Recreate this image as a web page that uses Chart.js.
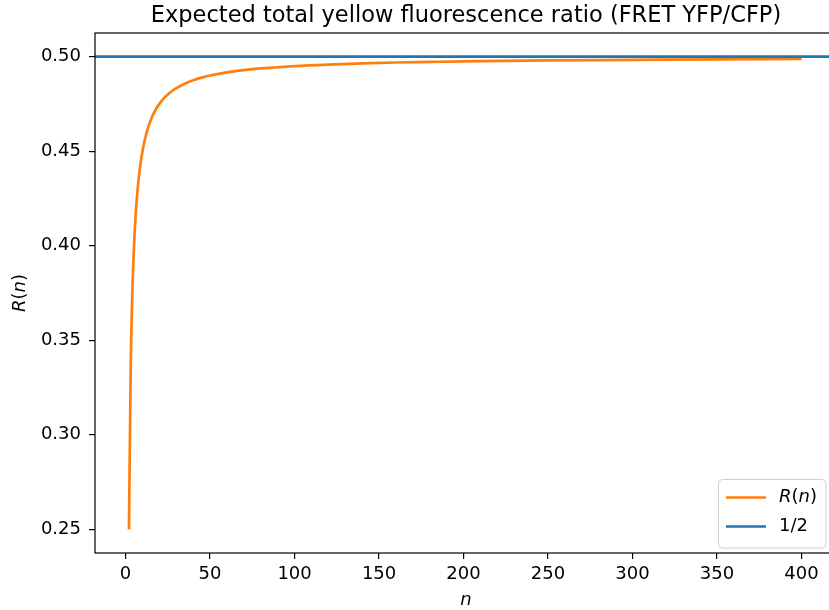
<!DOCTYPE html>
<html>
<head>
<meta charset="utf-8">
<script src="https://cdn.jsdelivr.net/npm/chart.js@4.4.1/dist/chart.umd.min.js"></script>
<style>
  html, body { margin: 0; padding: 0; overflow: hidden; background: #fff; }
</style>
</head>
<body>
<canvas id="myChart" width="845" height="610"></canvas>
<script>
// values
const nValues = [2, 3, 4, 5, 6, 7, 8, 9, 10, 11, 12, 13, 14, 16, 18, 20, 23, 26, 30, 35, 40, 45, 50, 60, 70, 80, 90, 100, 120, 140, 160, 180, 200, 250, 300, 350, 400];
const rValues = [0.2500, 0.3333, 0.3750, 0.4000, 0.4167, 0.4286, 0.4375, 0.4444, 0.4500, 0.4545, 0.4583, 0.4615, 0.4643, 0.4688, 0.4722, 0.4750, 0.4783, 0.4808, 0.4833, 0.4857, 0.4875, 0.4889, 0.4900, 0.4917, 0.4929, 0.4938, 0.4944, 0.4950, 0.4958, 0.4964, 0.4969, 0.4972, 0.4975, 0.4980, 0.4983, 0.4986, 0.4988];
const halfValue = 0.5;

const xMin = -18.1, xMax = 421;
const yMin = 0.2375, yMax = 0.5125;
const xTicks = [0, 50, 100, 150, 200, 250, 300, 350, 400];
const yTicks = [0.25, 0.30, 0.35, 0.40, 0.45, 0.50];
const yTickLabels = ['0.25', '0.30', '0.35', '0.40', '0.45', '0.50'];

const titleText = 'Expected total yellow fluorescence ratio (FRET YFP/CFP)';
const orange = '#ff7f0e';
const blue = '#1f77b4';
const FONT = '"DejaVu Sans", sans-serif';

// draws text made of roman / italic pieces, e.g. R(n)
function drawMixed(ctx, parts, x, y, size, align) {
    let total = 0;
    const widths = parts.map(p => {
        ctx.font = (p.i ? 'italic ' : '') + size + 'px ' + FONT;
        const w = ctx.measureText(p.t).width;
        total += w;
        return w;
    });
    let cx = x;
    if (align === 'center') cx = x - total / 2;
    ctx.textAlign = 'left';
    parts.forEach((p, k) => {
        ctx.font = (p.i ? 'italic ' : '') + size + 'px ' + FONT;
        ctx.fillText(p.t, cx, y);
        cx += widths[k];
    });
}

const rn = [{t: 'R', i: true}, {t: '(', i: false}, {t: 'n', i: true}, {t: ')', i: false}];

const decorPlugin = {
    id: 'decor',
    afterDraw(chart) {
        const ctx = chart.ctx;
        const a = chart.chartArea;
        ctx.save();
        // axes frame
        ctx.strokeStyle = '#000';
        ctx.lineWidth = 1.2;
        ctx.strokeRect(a.left, a.top, a.right - a.left, a.bottom - a.top);

        ctx.fillStyle = '#000';
        ctx.textBaseline = 'alphabetic';
        // title
        ctx.font = '22.5px ' + FONT;
        ctx.textAlign = 'center';
        ctx.fillText(titleText, (a.left + a.right) / 2, 22);

        // x axis title
        drawMixed(ctx, [{t: 'n', i: true}], (a.left + a.right) / 2, 605, 18, 'center');

        // y axis title
        ctx.save();
        ctx.translate(25, (a.top + a.bottom) / 2);
        ctx.rotate(-Math.PI / 2);
        drawMixed(ctx, rn, 0, 0, 18, 'center');
        ctx.restore();

        // legend
        const lx = 718.5, ly = 479.5, lw = 107.5, lh = 68.5, r = 4;
        ctx.beginPath();
        ctx.moveTo(lx + r, ly);
        ctx.arcTo(lx + lw, ly, lx + lw, ly + lh, r);
        ctx.arcTo(lx + lw, ly + lh, lx, ly + lh, r);
        ctx.arcTo(lx, ly + lh, lx, ly, r);
        ctx.arcTo(lx, ly, lx + lw, ly, r);
        ctx.closePath();
        ctx.fillStyle = 'rgba(255,255,255,0.8)';
        ctx.fill();
        ctx.strokeStyle = '#d0d0d0';
        ctx.lineWidth = 1;
        ctx.stroke();

        const rows = [
            {color: orange, y: 497.5, parts: rn},
            {color: blue, y: 526.5, parts: [{t: '1/2', i: false}]}
        ];
        rows.forEach(row => {
            ctx.strokeStyle = row.color;
            ctx.lineWidth = 2.7;
            ctx.beginPath();
            ctx.moveTo(726, row.y);
            ctx.lineTo(766, row.y);
            ctx.stroke();
            ctx.fillStyle = '#000';
            ctx.textBaseline = 'middle';
            drawMixed(ctx, row.parts, 779, row.y, 18, 'left');
        });
        ctx.restore();
    }
};

const ctx = document.getElementById('myChart').getContext('2d');
const myChart = new Chart(ctx, {
    type: 'line',
    data: {
        datasets: [{
            label: 'R(n)',
            data: nValues.map((n, i) => ({x: n, y: rValues[i]})),
            borderColor: orange,
            borderWidth: 2.7,
            pointRadius: 0,
            fill: false,
            cubicInterpolationMode: 'monotone',
            order: 1
        }, {
            label: '1/2',
            data: [{x: xMin, y: halfValue}, {x: xMax, y: halfValue}],
            borderColor: blue,
            borderWidth: 2.7,
            pointRadius: 0,
            fill: false,
            order: 0
        }]
    },
    options: {
        responsive: false,
        animation: false,
        devicePixelRatio: 1,
        layout: { padding: { left: 0, top: 33, right: 8, bottom: 0 } },
        plugins: {
            legend: { display: false },
            title: { display: false },
            tooltip: { enabled: false }
        },
        scales: {
            x: {
                type: 'linear',
                min: xMin,
                max: xMax,
                border: { display: false },
                grid: { drawOnChartArea: false, tickLength: 6, tickColor: '#000', lineWidth: 1.2 },
                afterBuildTicks: s => { s.ticks = xTicks.map(v => ({value: v})); },
                afterFit: s => { s.height = 57; },
                ticks: {
                    color: '#000',
                    padding: 5,
                    maxRotation: 0,
                    font: { family: 'DejaVu Sans', size: 18 },
                    callback: v => String(v)
                }
            },
            y: {
                type: 'linear',
                min: yMin,
                max: yMax,
                border: { display: false },
                grid: { drawOnChartArea: false, tickLength: 6, tickColor: '#000', lineWidth: 1.2 },
                afterBuildTicks: s => { s.ticks = yTicks.map(v => ({value: v})); },
                afterFit: s => { s.width = 95; },
                ticks: {
                    color: '#000',
                    padding: 8,
                    font: { family: 'DejaVu Sans', size: 18 },
                    callback: v => yTickLabels[yTicks.findIndex(t => Math.abs(t - v) < 1e-9)]
                }
            }
        }
    },
    plugins: [decorPlugin]
});
</script>
</body>
</html>
